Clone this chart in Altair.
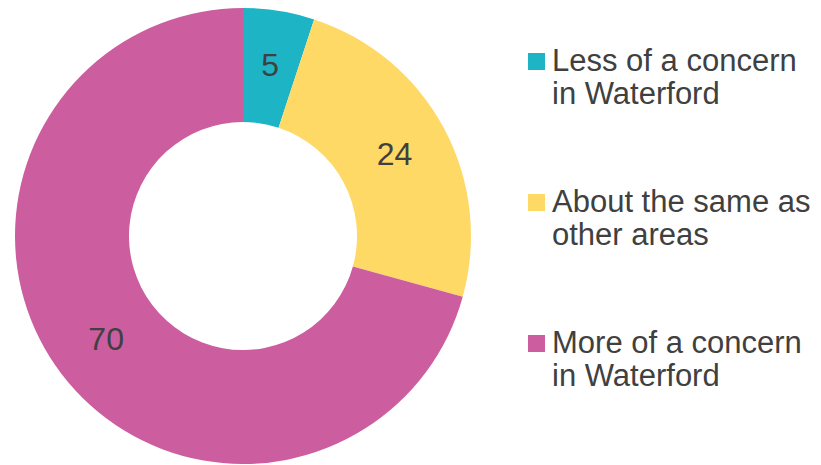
import altair as alt
import pandas as pd

categories = ["Less of a concern|in Waterford", "About the same as|other areas", "More of a concern|in Waterford"]
values = [5, 24, 70]
order = [1, 2, 3]
colors = ["#1DB4C5", "#FFD966", "#CC5E9F"]

df = pd.DataFrame({"category": categories, "value": values, "order": order})

color_scale = alt.Scale(domain=categories, range=colors)

cx, cy = 235, 228

base = alt.Chart(df).encode(
    theta=alt.Theta("value:Q", stack=True),
    order=alt.Order("order:Q"),
    x=alt.value(cx),
    y=alt.value(cy),
)

arcs = base.mark_arc(radius=228, radius2=114, stroke=None).encode(
    color=alt.Color(
        "category:N",
        scale=color_scale,
        sort=categories,
        legend=alt.Legend(
            title=None,
            orient="none",
            legendX=511,
            legendY=38,
            labelExpr="split(datum.label, '|')",
            labelFont="Liberation Sans",
            labelFontSize=31,
            labelColor="#404040",
            labelLimit=0,
            labelBaseline="middle",
            labelOffset=0,
            symbolOffset=2,
            symbolType="square",
            symbolSize=289,
            symbolStrokeWidth=0,
            rowPadding=76,
            padding=0,
        ),
    )
)

labels = base.mark_text(
    radius=172, font="Liberation Sans", fontSize=32, color="#404040"
).encode(text=alt.Text("value:Q"))

chart = (
    alt.layer(arcs, labels)
    .properties(
        width=805,
        height=456,
        padding=0,
        autosize=alt.AutoSizeParams(type="none"),
    )
    .configure_view(stroke=None)
)

chart.save("out.html", embed_options={"renderer": "svg", "actions": False})
